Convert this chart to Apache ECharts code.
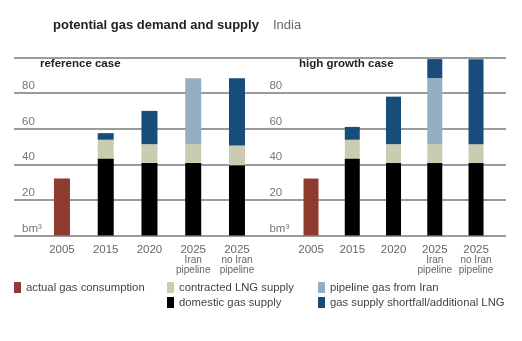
<!DOCTYPE html>
<html><head><meta charset="utf-8">
<script src="https://cdn.jsdelivr.net/npm/echarts@6/dist/echarts.min.js"></script>
<style>html,body{margin:0;padding:0;background:#fff}#c{width:522px;height:341px}</style>
</head><body><div id="c"></div>
<script>
const categories = ['2005', '2015', '2020', '2025a', '2025b'];
const catLabels = {'2005':'{y|2005}','2015':'{y|2015}','2020':'{y|2020}','2025a':'{y|2025}\n{s|Iran}\n{s|pipeline}','2025b':'{y|2025}\n{s|no Iran}\n{s|pipeline}'};
const yTicks = {0:'bm³',20:'20',40:'40',60:'60',80:'80',100:''};

// reference case
const refActual    = [32, null, null, null, null];
const refDomestic  = [null, 43.3, 40.8, 40.8, 39.5];
const refLNG       = [null, 10.5, 10.5, 10.5, 11.1];
const refPipeline  = [null, null, null, 37.1, null];
const refShortfall = [null, 3.7, 18.7, null, 37.8];

// high growth case
const hiActual    = [32, null, null, null, null];
const hiDomestic  = [null, 43.3, 40.7, 40.7, 40.7];
const hiLNG       = [null, 10.5, 10.6, 10.6, 10.6];
const hiPipeline  = [null, null, null, 37.1, null];
const hiShortfall = [null, 7.2, 26.7, 10.7, 47.7];

const names = ['actual gas consumption','domestic gas supply','contracted LNG supply','pipeline gas from Iran','gas supply shortfall/additional LNG'];
const colors = {'actual gas consumption':'#8E3B30','domestic gas supply':'#000000','contracted LNG supply':'#C9CCAE','pipeline gas from Iran':'#94AFC2','gas supply shortfall/additional LNG':'#174C7B'};

const FONT = 'Liberation Sans';
const chart = echarts.init(document.getElementById('c'));

function panelSeries(idx, arrs, bw, stack) {
  return names.map((n, i) => ({
    name: n, type: 'bar', stack: stack, xAxisIndex: idx, yAxisIndex: idx,
    barWidth: bw, data: arrs[i], itemStyle: {color: colors[n]}, animation: false
  }));
}

const xAxisCommon = {
  type: 'category', data: categories,
  axisLine: {show: false}, axisTick: {show: false},
  axisLabel: {
    margin: 8, interval: 0, hideOverlap: false, formatter: v => catLabels[v],
    rich: {
      y: {fontFamily: FONT, fontSize: 11.5, color: '#666', lineHeight: 12},
      s: {fontFamily: FONT, fontSize: 10, color: '#666', lineHeight: 10}
    }
  }
};
function yAxisFor(idx, margin) {
  return {
    type: 'value', gridIndex: idx, min: 0, max: 100, interval: 20,
    axisLine: {show: false}, axisTick: {show: false}, splitLine: {show: false},
    axisLabel: {
      show: true, margin: margin, align: 'left', verticalAlign: 'bottom',
      padding: [0, 0, 1, 0], lineHeight: 12,
      fontFamily: FONT, fontSize: 11.5, color: '#777',
      formatter: v => yTicks[v]
    }
  };
}

const option = {
  animation: false,
  grid: [
    {left: 40.1, width: 218.75, top: 57.5, height: 178},
    {left: 290.4, width: 206.25, top: 57.5, height: 178},
    {left: 14, width: 492, top: 57.5, height: 178}
  ],
  xAxis: [
    Object.assign({gridIndex: 0}, xAxisCommon),
    Object.assign({gridIndex: 1}, xAxisCommon),
    {type: 'category', gridIndex: 2, data: [''], show: false}
  ],
  yAxis: [
    yAxisFor(0, 18),
    yAxisFor(1, 21),
    {type: 'value', gridIndex: 2, min: 0, max: 100, interval: 20, axisLabel: {show: false},
     axisLine: {show: false}, axisTick: {show: false},
     splitLine: {show: true, lineStyle: {color: '#7a7a7a', width: 1.5}}}
  ],
  legend: [
    {data: ['actual gas consumption'], left: 14, top: 282, orient: 'vertical'},
    {data: ['contracted LNG supply', 'domestic gas supply'], left: 167, top: 282, orient: 'vertical'},
    {data: ['pipeline gas from Iran', 'gas supply shortfall/additional LNG'], left: 318, top: 282, orient: 'vertical'}
  ].map(l => Object.assign(l, {icon: 'rect', itemWidth: 7, itemHeight: 11, itemGap: 4, padding: 0,
    selectedMode: false, textStyle: {fontFamily: FONT, fontSize: 11.3, color: '#444', padding: [0,0,0,0]}})),
  graphic: [
    {type: 'text', left: 53, top: 19, style: {text: 'potential gas demand and supply', font: 'bold 13px "Liberation Sans"', fill: '#222'}},
    {type: 'text', left: 273, top: 19, style: {text: 'India', font: '13px "Liberation Sans"', fill: '#666'}},
    {type: 'text', left: 40, top: 58, style: {text: 'reference case', font: 'bold 11.5px "Liberation Sans"', fill: '#222'}},
    {type: 'text', left: 299, top: 58, style: {text: 'high growth case', font: 'bold 11.5px "Liberation Sans"', fill: '#222'}}
  ],
  series: [
    ...panelSeries(0, [refActual, refDomestic, refLNG, refPipeline, refShortfall], 16, 'ref'),
    ...panelSeries(1, [hiActual, hiDomestic, hiLNG, hiPipeline, hiShortfall], 15, 'hi')
  ]
};
chart.setOption(option);
</script></body></html>
